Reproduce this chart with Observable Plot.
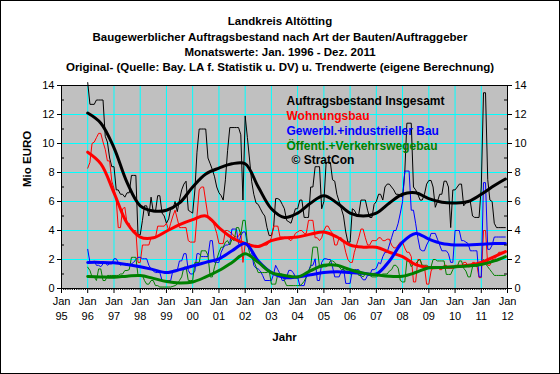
<!DOCTYPE html>
<html><head><meta charset="utf-8">
<script src="https://cdn.jsdelivr.net/npm/d3@7"></script>
<script src="https://cdn.jsdelivr.net/npm/@observablehq/plot@0.6"></script>
<style>
body{margin:0;background:#fff;}
#wrap{position:relative;width:560px;height:374px;overflow:hidden;background:#fff;font-family:"Liberation Sans",Arial,sans-serif;}
#wrap svg{position:absolute;left:0;top:0;}
#titles{position:absolute;left:0;top:0;width:560px;}
#titles div{position:absolute;left:0;width:560px;text-align:center;font-weight:bold;font-size:11.5px;line-height:14px;color:#000;white-space:nowrap;}
#border{position:absolute;left:0;top:0;width:560px;height:374px;box-sizing:border-box;border:1px solid #000;pointer-events:none;}
</style></head><body>
<div id="wrap"><div id="titles"></div><div id="border"></div></div>
<script>
const titleLines = [
  "Landkreis Altötting",
  "Baugewerblicher Auftragsbestand nach Art der Bauten/Auftraggeber",
  "Monatswerte: Jan. 1996 - Dez. 2011",
  "Original- (Quelle: Bay. LA f. Statistik u. DV) u. Trendwerte (eigene Berechnung)"
];
const legendLabels = ["Auftragsbestand Insgesamt", "Wohnungsbau", "Gewerbl.+industrieller Bau", "Öffentl.+Verkehrswegebau"];
const copyright = "© StratCon";
const yAxisLabel = "Mio EURO";
const xAxisLabel = "Jahr";
const seriesColors = ["#000000", "#ff0000", "#0000ff", "#008000"];
const tickYears = d3.range(1995, 2013);
const yTickValues = [0, 2, 4, 6, 8, 10, 12, 14];
const yMinorValues = [1, 3, 5, 7, 9, 11, 13];
const yGridValues = [2, 4, 6, 8, 10, 12];
const firstYear = 1996;

// monthly original values, Jan 1996 .. Dec 2011 (Mio EURO)
const total = [
14.2,12.7,12.7,12.7,13.0,13.0,13.0,13.0,10.5,10.1,9.0,8.4,
8.4,6.8,6.8,6.5,6.5,6.3,6.6,6.6,7.8,7.8,7.8,3.7,
3.7,4.7,5.7,5.7,5.0,6.3,5.3,5.3,6.4,6.4,5.2,5.0,
4.5,4.8,5.5,5.5,6.0,5.3,6.1,6.8,7.2,7.4,5.4,5.3,
5.2,6.8,9.4,11.0,11.0,11.0,11.0,9.0,8.6,8.2,7.7,7.0,
6.6,6.4,6.1,7.5,9.5,11.1,11.1,11.1,11.1,11.1,10.6,6.1,
11.9,10.4,9.0,7.4,6.5,5.9,5.8,5.5,5.2,5.0,4.2,3.65,
3.65,4.2,6.2,6.2,6.1,5.8,5.5,4.7,4.6,4.5,5.0,5.5,
5.5,6.1,6.1,4.9,4.9,4.9,7.0,7.0,8.4,8.4,8.4,5.5,
6.0,8.7,8.7,8.7,7.5,7.4,6.5,6.0,5.5,5.0,3.9,3.2,
3.2,5.5,5.4,5.1,5.1,6.1,6.1,6.1,5.4,4.9,4.9,5.8,
6.0,6.5,6.5,6.1,7.0,7.2,7.2,7.0,6.8,6.5,6.5,6.4,
6.3,8.0,11.4,11.4,11.4,7.0,6.8,6.5,6.1,6.1,6.5,7.2,
7.45,7.45,7.0,5.6,6.0,6.5,6.5,7.4,7.4,7.0,4.2,6.8,
6.8,7.0,7.2,7.2,5.7,5.9,6.0,6.0,5.0,4.9,4.9,4.9,
7.0,13.5,13.5,7.5,6.1,6.0,4.5,4.2,4.2,4.2,4.2,4.2
];
const wohnung = [
8.3,8.7,10.0,10.1,10.4,10.7,10.7,10.1,9.6,8.8,8.8,7.4,
6.9,6.1,4.2,4.2,5.5,5.6,4.5,4.5,4.0,4.0,4.0,1.8,
1.8,3.0,3.0,3.0,3.0,3.5,3.5,3.5,4.3,4.3,4.3,4.3,
4.5,4.0,4.5,5.0,5.4,4.8,4.2,4.2,4.2,4.2,3.3,3.2,
3.2,3.2,5.0,6.8,7.0,7.0,6.0,5.0,4.7,4.7,4.3,3.8,
3.1,3.1,3.1,4.0,4.0,3.9,3.8,3.6,3.55,3.6,3.9,1.8,
3.1,3.1,3.0,3.0,2.9,2.85,2.85,2.9,3.0,3.0,3.0,3.2,
3.5,4.3,4.3,4.3,3.55,3.55,3.5,3.5,3.4,3.3,3.5,3.8,
3.9,4.0,4.0,3.8,3.8,4.7,4.7,4.7,3.5,3.5,3.3,3.5,
4.0,4.3,4.3,4.0,3.8,3.0,3.0,3.5,3.5,3.2,2.5,2.0,
1.8,1.8,2.5,3.0,3.5,4.1,4.1,3.5,3.0,3.0,3.3,3.3,
3.3,3.5,3.5,3.3,3.3,3.4,3.4,3.0,2.8,2.8,3.0,3.2,
3.2,2.8,2.5,2.5,2.2,0.45,0.45,2.0,2.0,1.5,1.5,0.3,
0.3,1.2,1.5,1.5,1.5,1.3,1.3,1.6,1.6,1.4,1.4,1.4,
1.6,1.6,1.6,1.5,1.8,1.8,1.5,1.5,1.8,1.8,1.6,0.75,
0.75,4.0,4.0,1.6,1.6,2.0,2.0,2.2,2.5,2.5,2.5,2.5
];
const gewerbe = [
2.7,1.8,1.8,1.9,1.6,1.6,1.5,1.7,1.8,1.6,1.7,1.7,
2.05,2.05,1.8,1.6,1.7,1.7,1.6,1.6,1.7,1.8,2.0,2.15,
2.15,2.05,2.05,2.05,1.6,1.35,1.2,1.1,1.1,1.1,0.55,0.55,
0.55,0.55,0.55,1.25,1.25,1.25,1.9,1.9,2.4,2.4,1.24,1.0,
1.0,1.2,2.4,2.4,2.2,2.2,2.2,2.2,3.3,3.3,1.8,1.8,
1.8,2.5,2.8,3.0,3.0,3.1,4.1,4.1,4.1,3.1,3.65,3.9,
3.9,3.1,3.1,2.5,1.6,1.4,1.35,1.2,0.9,0.55,0.55,0.55,
0.55,1.0,1.6,1.3,1.0,0.55,0.55,0.8,1.25,1.25,1.1,0.8,
0.8,0.2,0.2,0.2,0.8,1.2,1.6,1.6,2.05,0.55,0.55,1.8,
2.05,2.05,2.0,2.0,1.5,0.8,0.8,0.8,1.2,1.4,0.35,0.35,
0.35,1.3,1.3,1.3,1.3,0.8,0.6,0.6,0.9,0.9,1.3,1.3,
1.4,1.8,1.7,2.2,2.5,2.5,3.0,3.5,4.0,4.0,4.5,5.2,
6.0,8.1,8.1,8.1,5.4,5.4,4.5,3.5,2.7,2.6,2.6,3.0,
3.3,3.8,3.8,3.8,3.4,3.0,2.6,2.6,2.6,2.4,1.8,1.8,
4.0,4.0,4.0,3.3,3.3,3.2,3.1,2.6,2.6,2.6,2.6,0.8,
0.8,7.3,7.3,2.7,2.7,3.0,3.55,3.55,3.55,3.55,3.55,3.55
];
const oeffentl = [
1.47,1.24,0.8,0.8,0.55,1.35,1.35,0.55,0.55,0.9,0.9,0.9,
0.9,0.9,0.9,1.0,1.0,1.24,1.24,1.3,2.15,2.15,2.15,0.9,
0.9,0.9,0.55,0.3,0.3,0.55,0.55,0.2,0.2,0.1,0.1,0.1,
0.1,0.1,0.1,0.15,0.2,0.3,0.55,0.8,1.47,1.47,0.55,0.55,
0.55,1.8,1.8,1.8,2.6,2.6,2.6,2.3,0.8,0.8,1.5,2.0,
2.5,2.85,2.85,3.2,3.3,3.0,3.4,3.3,4.2,4.2,3.7,4.7,
4.7,3.1,2.5,2.15,1.9,1.5,1.1,1.1,1.1,1.1,1.1,1.24,
0.3,0.3,0.3,1.0,1.0,1.0,0.55,0.2,0.2,0.2,0.2,0.2,
0.2,0.2,0.3,0.5,0.8,1.2,1.5,2.85,2.85,2.85,1.47,1.47,
1.5,1.5,1.6,1.9,1.9,1.8,1.6,1.5,1.3,1.3,1.2,1.2,
1.0,1.0,1.2,1.2,0.9,0.9,0.8,1.0,1.0,0.9,0.8,0.8,
0.8,0.9,0.9,1.0,1.0,1.0,1.2,1.3,1.6,1.6,1.4,0.55,
0.45,0.45,1.9,1.9,1.5,1.7,1.7,1.9,2.0,1.6,1.6,1.6,
1.5,1.5,2.0,2.0,1.9,1.9,1.9,1.9,0.97,0.97,0.97,1.3,
1.5,1.5,1.9,1.9,1.4,1.2,0.8,0.8,1.5,1.6,1.5,1.8,
1.8,2.0,1.7,1.5,1.3,1.1,0.9,0.9,0.9,0.9,0.9,0.9
];

// trend values (half-yearly read-outs)
const trendYears = [1996.0,1996.5,1997.0,1997.5,1998.0,1998.5,1999.0,1999.5,2000.0,2000.5,2001.0,2001.5,2002.0,2002.5,2003.0,2003.5,2004.0,2004.5,2005.0,2005.5,2006.0,2006.5,2007.0,2007.5,2008.0,2008.5,2009.0,2009.5,2010.0,2010.5,2011.0,2011.5,2011.92];
const totalTrend = [12.1,11.4,9.7,7.3,5.7,5.35,5.4,5.9,7.0,7.9,8.3,8.6,8.6,7.0,5.5,4.9,5.2,5.9,6.4,5.9,5.2,5.0,5.2,5.9,6.5,6.6,6.2,5.95,5.9,6.0,6.5,7.1,7.55];
const wohnungTrend = [9.4,8.6,6.6,4.5,3.55,3.5,3.95,4.4,4.75,5.0,4.2,3.5,3.1,2.9,3.3,3.5,3.55,3.75,3.9,3.55,3.0,2.85,2.85,2.5,2.2,1.65,1.45,1.45,1.5,1.6,1.8,2.2,2.55];
const gewerbeTrend = [1.8,1.8,1.77,1.65,1.5,1.3,1.1,1.3,1.55,1.8,2.05,2.6,3.1,1.9,1.1,0.75,0.8,0.95,1.1,1.15,1.1,1.05,1.0,1.9,3.2,3.8,3.4,3.1,3.0,3.0,3.05,3.1,3.1];
const oeffentlTrend = [0.83,0.8,0.78,0.85,0.9,0.7,0.48,0.38,0.45,0.8,1.24,1.8,2.4,1.8,1.1,0.9,0.8,1.24,1.6,1.6,1.3,1.06,0.94,0.84,0.85,1.1,1.43,1.45,1.5,1.55,1.65,1.9,2.2];

const W = 560, H = 374, mL = 61, mR = 53, mT = 85, mB = 86;
const plotW = W - mL - mR, plotH = H - mT - mB;
const FONT = "Liberation Sans, Arial, sans-serif";

// HTML title block above the plot area
const titleTops = [14, 30, 45, 60];
const titlesDiv = document.getElementById("titles");
titleLines.forEach((t, k) => {
  const d = document.createElement("div");
  d.textContent = t;
  d.style.top = titleTops[k] + "px";
  titlesDiv.appendChild(d);
});

const monthDate = i => new Date(Date.UTC(firstYear, i, 1));
const decDate = y => { const yi = Math.floor(y); const s = Date.UTC(yi,0,1), e = Date.UTC(yi+1,0,1); return new Date(s + (y - yi) * (e - s)); };
const yearDates = tickYears.map(y => new Date(Date.UTC(y, 0, 1)));
const monthTicks = d3.utcMonths(yearDates[0], yearDates[yearDates.length-1]);

const origSeries = [total, wohnung, gewerbe, oeffentl];
const trendSeries = [totalTrend, wohnungTrend, gewerbeTrend, oeffentlTrend];

const lineMarks = [];
origSeries.forEach((arr, k) => {
  lineMarks.push(Plot.lineY(arr.map((v,i) => ({date: monthDate(i), value: v})), {x: "date", y: "value", stroke: seriesColors[k], strokeWidth: 1}));
});
trendSeries.forEach((arr, k) => {
  lineMarks.push(Plot.lineY(arr.map((v,i) => ({date: decDate(trendYears[i]), value: v})), {x: "date", y: "value", stroke: seriesColors[k], strokeWidth: 3, curve: "catmull-rom"}));
});

const legendOffsets = [11, 25.5, 40.5, 56, 69.5];
const legendMarks = legendLabels.map((t, k) => Plot.text([t], {frameAnchor: "top-left", dx: 225, dy: legendOffsets[k], text: d => d, fill: seriesColors[k], fontWeight: "bold", fontSize: 12, textAnchor: "start"}));
legendMarks.push(Plot.text([copyright], {frameAnchor: "top-left", dx: 230, dy: legendOffsets[4], text: d => d, fill: "#000", fontWeight: "bold", fontSize: 12, textAnchor: "start"}));

const chart = Plot.plot({
  width: W, height: H,
  marginLeft: mL, marginRight: mR, marginTop: mT, marginBottom: mB,
  style: {fontFamily: FONT, fontSize: "11px", background: "transparent", color: "#000", overflow: "visible"},
  x: {type: "utc", domain: [yearDates[0], yearDates[yearDates.length-1]], axis: null},
  y: {domain: [0, 14], axis: null},
  marks: [
    Plot.frame({fill: "#c0c0c0", stroke: null}),
    Plot.gridX(yearDates.slice(1, -1), {stroke: "#00ffff", strokeOpacity: 1, strokeWidth: 1}),
    Plot.gridY(yGridValues, {stroke: "#00ffff", strokeOpacity: 1, strokeWidth: 1}),
    ...lineMarks,
    Plot.frame({stroke: "#000", strokeWidth: 1}),
    Plot.axisY(yTickValues, {anchor: "left", label: null, tickSize: 4, tickPadding: 3, fontSize: 11, stroke: "#000"}),
    Plot.axisY(yTickValues, {anchor: "right", label: null, tickSize: 4, tickPadding: 3, fontSize: 11, stroke: "#000"}),
    Plot.tickY(yMinorValues, {y: d => d, insetRight: plotW - 3, stroke: "#000"}),
    Plot.tickY(yMinorValues, {y: d => d, insetLeft: plotW - 3, stroke: "#000"}),
    Plot.tickX(yearDates, {x: d => d, insetTop: plotH, insetBottom: -5, stroke: "#000"}),
    Plot.tickX(monthTicks, {x: d => d, insetTop: plotH, insetBottom: -2, stroke: "#000"}),
    Plot.text(yearDates, {x: d => d, frameAnchor: "bottom", dy: 16, text: () => "Jan", fontSize: 11, fill: "#000"}),
    Plot.text(yearDates, {x: d => d, frameAnchor: "bottom", dy: 31, text: d => String(d.getUTCFullYear() % 100).padStart(2, "0"), fontSize: 11, fill: "#000"}),
    Plot.text([yAxisLabel], {frameAnchor: "left", dx: -34, rotate: -90, text: d => d, fontWeight: "bold", fontSize: 11.5, fill: "#000"}),
    Plot.text([xAxisLabel], {frameAnchor: "bottom", dy: 52, text: d => d, fontWeight: "bold", fontSize: 11.5, fill: "#000"}),
    ...legendMarks
  ]
});
document.getElementById("wrap").insertBefore(chart, document.getElementById("titles"));
</script>
</body></html>
